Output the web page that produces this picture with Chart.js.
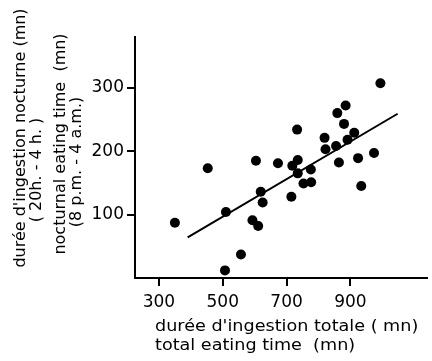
<!DOCTYPE html>
<html>
<head>
<meta charset="utf-8">
<script src="https://cdn.jsdelivr.net/npm/chart.js@4.4.1/dist/chart.umd.min.js"></script>
<style>
    html, body { margin: 0; padding: 0; background: #ffffff; }
</style>
</head>
<body>
<canvas id="eatingChart" width="432" height="361"></canvas>
<script>

// ---------------------------
// Data (minutes)
// ---------------------------

const totalTime = [350, 453, 510, 507, 557, 593, 611, 604, 619, 625, 673, 715, 718, 735, 733, 735,
                   753, 776, 777, 819, 822, 855, 864, 859, 885, 880, 891, 912, 924, 934, 974, 994];

const nightTime = [87, 173, 104, 12, 37, 91, 82, 185, 136, 119, 181, 128, 177, 186, 234, 165,
                   149, 171, 151, 221, 203, 208, 182, 260, 272, 243, 218, 229, 189, 145, 197, 307];

// regression line, read at both ends
const fitTotal = [390, 1048];
const fitNight = [64, 259];

const xTicks = [300, 500, 700, 900];
const yTicks = [100, 200, 300];

const xTitle = ["durée d'ingestion totale ( mn)", "total eating time  (mn)"];
const yTitle = ["durée d'ingestion nocturne (mn)", "( 20h. - 4 h. )",
                "nocturnal eating time  (mn)", "(8 p.m. - 4 a.m.)"];

const FONT = "'DejaVu Sans', sans-serif";


// ---------------------------
// Axis titles
// ---------------------------

const axisTitles = {

    id: "axisTitles",

    afterDraw(chart) {

        const ctx = chart.ctx;
        const area = chart.chartArea;

        ctx.save();
        ctx.fillStyle = "#000000";
        ctx.textBaseline = "middle";
        ctx.font = "16px " + FONT;

        // x title, left aligned lines (slightly wide lettering)
        ctx.textAlign = "left";
        xTitle.forEach(function(line, i){
            ctx.save();
            ctx.translate(area.left + 20, area.bottom + 49 + i * 19);
            ctx.scale(1.1, 1);
            ctx.fillText(line, 0, 0);
            ctx.restore();
        });

        // y title, rotated lines
        const yPos = [[21, 138], [37, 170], [61, 144], [77, 162]];
        ctx.textAlign = "center";
        yTitle.forEach(function(line, i){
            ctx.save();
            ctx.translate(yPos[i][0], yPos[i][1]);
            ctx.rotate(-Math.PI / 2);
            ctx.fillText(line, 0, 0);
            ctx.restore();
        });

        ctx.restore();

    }

};


// ---------------------------
// Chart
// ---------------------------

const canvas = document.getElementById("eatingChart");

new Chart(canvas, {

    type: "scatter",

    data: {

        datasets: [

            {
                label: "animals",
                data: totalTime.map(function(t, i){ return { x: t, y: nightTime[i] }; }),
                backgroundColor: "#000000",
                borderColor: "#000000",
                pointRadius: 5,
                pointBorderWidth: 0
            },

            {
                type: "line",
                label: "fit",
                data: fitTotal.map(function(t, i){ return { x: t, y: fitNight[i] }; }),
                borderColor: "#000000",
                borderWidth: 2,
                pointRadius: 0,
                fill: false
            }

        ]

    },

    options: {

        responsive: false,
        animation: false,

        layout: {
            padding: { top: 37, right: 4, left: 0, bottom: 0 }
        },

        plugins: {
            legend: { display: false },
            tooltip: { enabled: false }
        },

        scales: {

            x: {
                type: "linear",
                min: 225,
                max: 1140,
                afterBuildTicks: function(scale){
                    scale.ticks = xTicks.map(function(v){ return { value: v }; });
                },
                afterFit: function(scale){ scale.height = 83; },
                grid: {
                    drawOnChartArea: false,
                    color: "#000000",
                    lineWidth: 2,
                    tickLength: 8
                },
                border: { color: "#000000", width: 2 },
                ticks: {
                    color: "#000000",
                    padding: 6,
                    font: { family: FONT, size: 17 }
                }
            },

            y: {
                min: 0,
                max: 380,
                afterBuildTicks: function(scale){
                    scale.ticks = yTicks.map(function(v){ return { value: v }; });
                },
                afterFit: function(scale){ scale.width = 135; },
                grid: {
                    drawOnChartArea: false,
                    color: "#000000",
                    lineWidth: 2,
                    tickLength: 8
                },
                border: { color: "#000000", width: 2 },
                ticks: {
                    color: "#000000",
                    padding: 3,
                    font: { family: FONT, size: 17 }
                }
            }

        }

    },

    plugins: [axisTitles]

});

</script>
</body>
</html>
